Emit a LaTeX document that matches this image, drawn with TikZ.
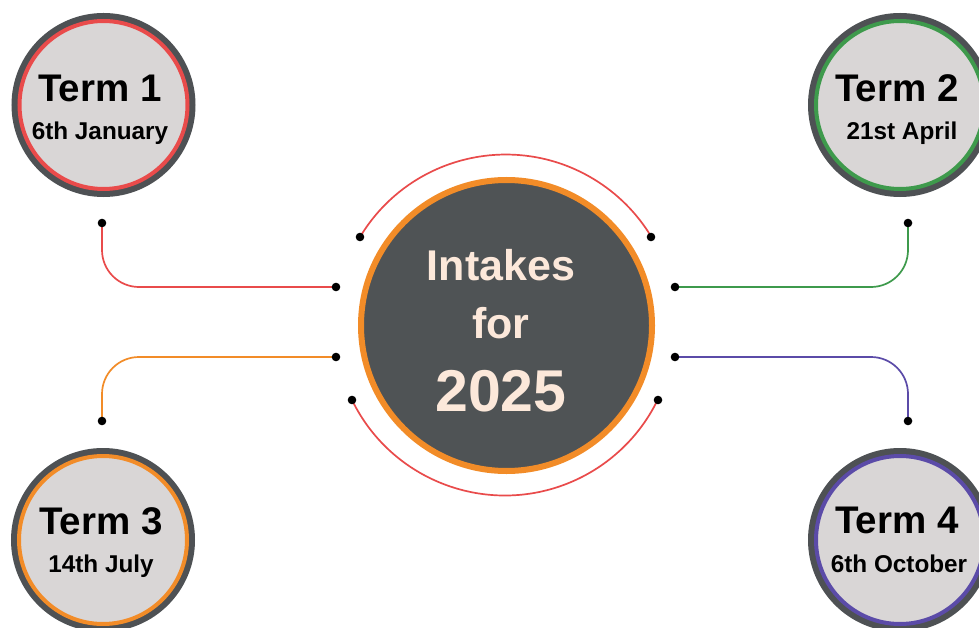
\documentclass[tikz,border=0pt]{standalone}
\usepackage{fontspec}
\setmainfont{Liberation Sans}
\definecolor{ringgray}{HTML}{4E5154}
\definecolor{innergray}{HTML}{D9D6D6}
\definecolor{centerfill}{HTML}{4F5355}
\definecolor{peach}{HTML}{FCE8DA}
\definecolor{cred}{HTML}{E94B4B}
\definecolor{corange}{HTML}{F28C28}
\definecolor{cgreen}{HTML}{3E9A4C}
\definecolor{cpurple}{HTML}{5B4BA8}
\tikzset{
  termcircle/.style={circle, inner sep=0pt, minimum size=168pt, line width=4pt, fill=innergray,
     preaction={draw=ringgray, line width=16pt}},
  termtitle/.style={anchor=base, inner sep=0pt, font=\fontsize{38.5}{40}\selectfont\bfseries},
  termdate/.style={anchor=base, inner sep=0pt, font=\fontsize{24.3}{26}\selectfont\bfseries},
  centertext/.style={anchor=base, inner sep=0pt, text=peach},
  link/.style={line width=1.7pt, rounded corners=37pt},
  arcline/.style={line width=1.7pt, draw=cred},
  dotmark/.style={fill=black},
}
\begin{document}
\begin{tikzpicture}[x=1pt,y=-1pt]
\clip (0,0) rectangle (979,628);
\fill[white] (0,0) rectangle (979,628);

% centre
\node[circle, inner sep=0pt, minimum size=291pt, line width=6pt, draw=corange, fill=centerfill] (c) at (506.5,325.5) {};
\node[centertext, font=\fontsize{43}{44}\selectfont\bfseries] (c1) at (501,280) {Intakes};
\node[centertext, font=\fontsize{43}{44}\selectfont\bfseries] (c2) at (501,338) {for};
\node[centertext, font=\fontsize{59}{60}\selectfont\bfseries] (c3) at (501,411) {2025};

% arc end points
\coordinate (atl) at (360,237);
\coordinate (atr) at (651,237);
\coordinate (abl) at (352,400);
\coordinate (abr) at (658,400);
\draw[arcline] (atl) arc[start angle=149, end angle=31, radius=170pt];
\draw[arcline] (abl) arc[start angle=-154, end angle=-26, radius=170pt];

% connector end points
\coordinate (p1) at (102,223);
\coordinate (q1) at (336,287);
\coordinate (p3) at (102,421);
\coordinate (q3) at (336,357);
\coordinate (p2) at (908,223);
\coordinate (q2) at (675,287);
\coordinate (p4) at (908,421);
\coordinate (q4) at (675,357);
\draw[link, draw=cred] (p1) |- (q1);
\draw[link, draw=corange] (p3) |- (q3);
\draw[link, draw=cgreen] (p2) |- (q2);
\draw[link, draw=cpurple] (p4) |- (q4);

\foreach \p in {atl,atr,abl,abr,p1,q1,p2,q2,p3,q3,p4,q4}
  \fill[dotmark] (\p) circle[radius=4.3pt];

% terms
\node[termcircle, draw=cred] (t1) at (103.5,105) {};
\node[termtitle] (t1a) at (100,102) {Term 1};
\node[termdate] (t1b) at (100,140) {6th January};

\node[termcircle, draw=cgreen] (t2) at (900,105) {};
\node[termtitle] (t2a) at (897,102) {Term 2};
\node[termdate] (t2b) at (902,140) {21st April};

\node[termcircle, draw=corange] (t3) at (103,540) {};
\node[termtitle] (t3a) at (101,534) {Term 3};
\node[termdate] (t3b) at (101,572) {14th July};

\node[termcircle, draw=cpurple] (t4) at (900,540) {};
\node[termtitle] (t4a) at (897,533) {Term 4};
\node[termdate] (t4b) at (899,572) {6th October};
\end{tikzpicture}
\end{document}
